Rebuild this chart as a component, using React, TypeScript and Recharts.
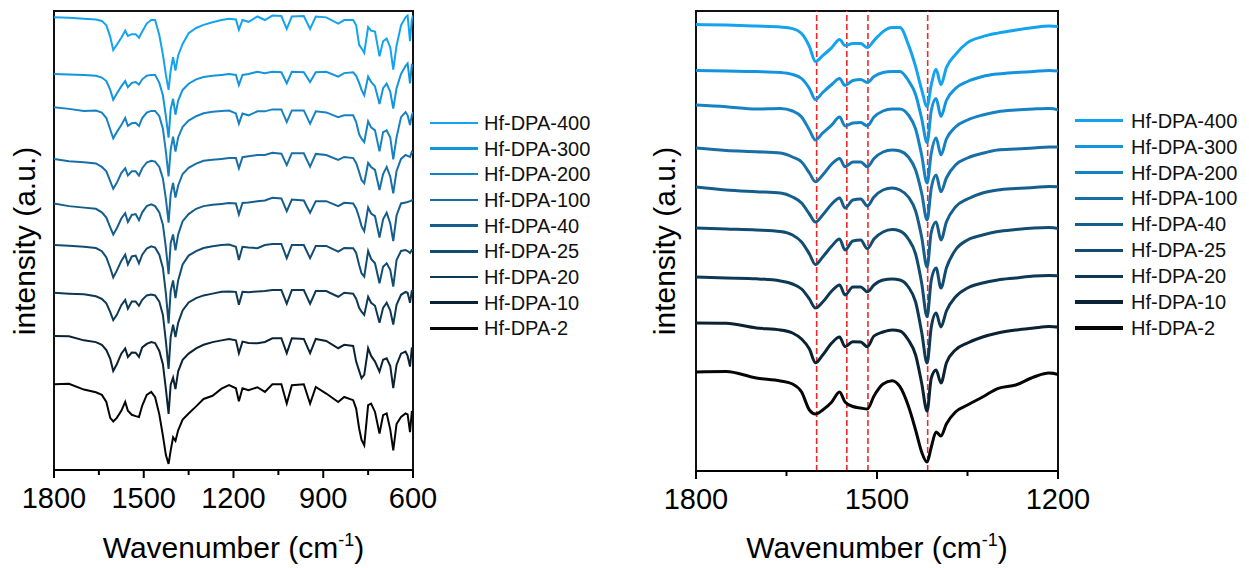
import {
  Legend,
  Line,
  LineChart,
  ReferenceArea,
  ReferenceLine,
  XAxis,
  YAxis,
} from 'recharts';

// FTIR spectra, sampled at these wavenumbers (cm-1)
const wavenumbers = [
  1800, 1750, 1700, 1660, 1640, 1625, 1612, 1602, 1590, 1575, 1562, 1553, 1540, 1527, 1516, 1505, 1490,
  1475, 1462, 1448, 1436, 1426, 1417, 1410, 1402, 1394, 1385, 1370, 1350, 1325, 1300, 1270, 1240, 1215,
  1192, 1182, 1170, 1150, 1120, 1095, 1070, 1040, 1022, 1005, 965, 944, 925, 890, 850, 830, 800, 790,
  780, 772, 763, 750, 740, 727, 712, 700, 688, 676, 666, 655, 640, 625, 618, 610, 604, 600,
];

// intensity relative to the value at 1800 cm-1 (a.u.)
const hfDpa400 = [
  0, -0.5, -1.5, -2.5, -4, -9, -22, -37, -31, -23, -15, -21, -19, -19, -23, -16, -7, -3, -3, -20, -42, -65,
  -82, -60, -45, -60, -43, -30, -18, -12, -8.5, -5.5, -3, -1.5, -2.3, -14, -3, -5, 1, -3, 2, 1.5, -13, 1,
  1.5, -13, 1, 0, -7, -3, -3, -9, -31, -35, -40, -11, -15, -16, -44, -27, -24, -34, -59, -32, -9, 0, 2,
  -27, -3, 2,
];
const hfDpa300 = [
  0, -0.5, -1, -2, -4, -8, -18, -29, -22, -14, -8, -15, -10, -9, -12, -6, -2, -1, -1, -10, -24, -48, -72,
  -40, -28, -46, -30, -18, -11, -6, -3.5, -2, -1, 0, -1, -12.5, -1, 0, 2.5, 1, 2.5, 2, -10.5, 2.5, 2, -9,
  2, 2.5, -3, 1, 2, -2, -10, -18, -24, -3, -9, -14, -34, -16, -11, -20, -39, -16, 0, 9, 12, -10.5, 10, 9,
];
const hfDpa200 = [
  0, -1.7, -4, -3.5, -6, -12, -25, -35, -28, -20, -12, -21, -18, -17.5, -21, -12, -6, -4, -4, -10, -24,
  -50, -78, -48, -33, -50, -34, -22, -15, -10, -6.7, -5, -4, -3.5, -6.8, -18.4, -7, -9, -4.5, -4.5, -2.3,
  -2.3, -16.6, -3.4, -3.4, -18.4, -4.5, -5.7, -11, -9, -9, -16.6, -30.5, -35.4, -39.2, -15.8, -22.6, -26,
  -49.7, -28, -26, -34, -58.8, -34, -11, -5.3, -9, -20, -9, -5.6,
];
const hfDpa100 = [
  0, -2.5, -3.7, -5, -9, -14, -25, -33.7, -27, -16, -10.5, -18.7, -14, -14, -18.7, -10.5, -4, -2, -3, -9,
  -22, -45, -72, -40, -27, -43.7, -30, -17, -10, -5.3, -2, -1, 0, 1, 1, -10.5, 2, 3, 4.5, 4.5, 7, 6, -7,
  6.5, 6.5, -8.7, 5.7, 4.5, -1, 2.3, 1, -4.5, -14.7, -23.7, -27.5, -4.5, -9, -12.4, -35, -17, -9, -20,
  -38.8, -13.6, 0, 4.5, 3.4, 2.3, 8, 6.8,
];
const hfDpa40 = [
  0, -3, -4.7, -6, -10, -16, -27, -35, -28, -17, -11, -21, -13, -12, -19, -10, -3, -1, -3, -10, -24, -50,
  -80, -45, -35, -53, -35, -20, -12, -6, -3, -1.5, -0.5, 0.5, 0, -12.4, 0.5, 1, 2.6, 3.4, 6.4, 5.7, -8.7,
  4.5, 3.4, -10.5, 2.6, 2.6, -3, 0.8, 0, -5.7, -15.8, -25.6, -31.3, -4.5, -11.3, -14.4, -38.4, -18, -10.5,
  -22.6, -42.6, -13.6, 0, 1.1, 1.7, 2.6, 3.4, 4.5,
];
const hfDpa25 = [
  0, -1, -2, -3.5, -7, -14, -26, -36.6, -29, -18, -11, -22, -13, -12, -20.7, -11, -4, -1.6, -3, -11, -26,
  -55, -88.7, -52, -40, -60, -40, -22, -12, -7, -3.5, -1.5, 0, 0.5, -2, -17, -2, -2.8, -3.7, 0, 1.1, 1.1,
  -15, 0, 0, -15, -1.1, -1.1, -7.6, -3.4, -3.7, -9, -22.6, -32, -35.8, -6.8, -15.8, -20.7, -43.3, -24.5,
  -20.7, -28, -47, -17, -6.8, -5.7, -6.8, -9, -5.7, -5.7,
];
const hfDpa20 = [
  0, -1, -1.8, -4, -7, -12, -22, -31, -25, -14, -8, -18, -10, -10, -14.7, -8, -3, -2, -3, -10, -25, -55,
  -86, -50, -36, -50, -34, -20, -11, -6, -3, -1, 1, 1.5, 1, -13.6, 1, 0.5, 1.5, 2, 3, 3, -12.4, 3, 3,
  -12.4, 2, 2, -4.5, 0, -1, -6.8, -17, -21.5, -25, -4.5, -11.3, -14.7, -34, -17, -11.3, -20, -36, -13.6,
  -2.3, 1, 0, -11.3, 2, 3,
];
const hfDpa10 = [
  0, -0.3, -5, -7, -10, -16, -26, -39.7, -32, -20, -14, -23.7, -18.7, -19, -23.7, -13, -9, -7, -8, -17,
  -32, -60, -88, -55, -47, -60, -40, -27, -20, -14, -10, -7, -5, -3.5, -5, -19.5, -6.4, -8, -8.2, -6.8,
  -2.6, -2.6, -19.5, -2.6, -3.4, -19.5, -3.4, -5.6, -13.9, -10, -11.3, -29, -39.5, -47.8, -44, -13.9,
  -22.6, -29, -40.3, -27, -25.2, -34, -59, -32.8, -20, -17.7, -22.6, -34.7, -13.9, -13.6,
];
const hfDpa2 = [
  0, 0.5, -6, -9, -12, -20, -38, -42, -38, -30, -20, -30, -34.5, -36, -37, -24, -12, -8.7, -14.7, -34, -58,
  -80, -90, -75, -60, -64, -52, -40, -33, -25, -16.6, -13, -5, -1, -4.5, -19.2, -4.5, -6.8, -3.4, -8.7, 0,
  0, -21.8, -1.1, 0, -21.8, -3, -10.5, -20, -14.4, -18, -27.5, -50, -63, -69, -23.7, -21.8, -31.3, -55.7,
  -35, -33, -51, -74.6, -45, -37, -33, -34, -54, -31.3, -31.6,
];

const seriesNames = [
  'Hf-DPA-400',
  'Hf-DPA-300',
  'Hf-DPA-200',
  'Hf-DPA-100',
  'Hf-DPA-40',
  'Hf-DPA-25',
  'Hf-DPA-20',
  'Hf-DPA-10',
  'Hf-DPA-2',
];
const seriesValues = [hfDpa400, hfDpa300, hfDpa200, hfDpa100, hfDpa40, hfDpa25, hfDpa20, hfDpa10, hfDpa2];
const seriesColors = [
  '#14a3ef',
  '#1494dd',
  '#1682c3',
  '#176fa6',
  '#155e8c',
  '#124c71',
  '#0e3954',
  '#0a2233',
  '#050505',
];

// vertical stacking offset of each spectrum, per panel
const leftOffsets = [511.5, 447.5, 409.8, 351.5, 301.2, 254.3, 200.3, 151.5, 96.9];
const rightOffsets = [446.4, 400.5, 366, 323, 284, 243, 194, 148, 99];

const leftTicks = [1800, 1650, 1500, 1350, 1200, 1050, 900, 750, 600];
const rightTicks = [1800, 1650, 1500, 1350, 1200];
const peakPositions = [1600, 1550, 1515, 1416];

const FONT = '"Liberation Sans", Arial, Helvetica, sans-serif';
const HEIGHT = 568;

const buildRows = (offsets: number[]) =>
  wavenumbers.map((w, i) => {
    const row: Record<string, number> = { w };
    seriesValues.forEach((values, k) => {
      row[`s${k}`] = offsets[k] + values[i];
    });
    return row;
  });

const WaveTick = ({ x, y, payload }: any) => {
  const major = payload.value % 300 === 0;
  return (
    <g>
      <line x1={x} x2={x} y1={y} y2={y + (major ? 8 : 5)} stroke="#000" strokeWidth={2} />
      {major && (
        <text x={x} y={y + 38} textAnchor="middle" fontSize={29} fill="#000" fontFamily={FONT}>
          {payload.value}
        </text>
      )}
    </g>
  );
};

// axis titles, drawn from the x-axis label slot
const AxisTitles = ({ cx }: { cx: number }) => (
  <g>
    <text x={cx} y={558} textAnchor="middle" fontSize={30} fill="#000" fontFamily={FONT}>
      <tspan>Wavenumber (cm</tspan>
      <tspan dy={-12} fontSize={18}>-1</tspan>
      <tspan dy={12}>)</tspan>
    </text>
    <text
      x={35}
      y={241}
      transform="rotate(-90 35 241)"
      textAnchor="middle"
      fontSize={30}
      fill="#000"
      fontFamily={FONT}
    >
      intensity (a.u.)
    </text>
  </g>
);

const SpectraLegend = ({ payload, lineWidth, rowHeight, gap }: any) => {
  const items = [...(payload ?? [])].sort(
    (a: any, b: any) => seriesNames.indexOf(a.value) - seriesNames.indexOf(b.value),
  );
  return (
    <div style={{ fontFamily: FONT }}>
      {items.map((item: any) => (
        <div key={item.value} style={{ display: 'flex', alignItems: 'center', height: rowHeight }}>
          <span
            style={{
              display: 'inline-block',
              width: 48,
              height: lineWidth,
              background: item.color,
              marginRight: gap,
            }}
          />
          <span style={{ fontSize: 20, lineHeight: '20px', color: '#111', whiteSpace: 'nowrap' }}>
            {item.value}
          </span>
        </div>
      ))}
    </div>
  );
};

type PanelProps = {
  left: number;
  width: number;
  plotLeft: number;
  plotRight: number;
  plotBottom: number;
  xDomain: [number, number];
  ticks: number[];
  yMax: number;
  offsets: number[];
  lineWidth: number;
  curve: 'linear' | 'monotone';
  legendLeft: number;
  legendTop: number;
  legendRow: number;
  legendGap: number;
  peaks?: number[];
};

const SpectraPanel = (p: PanelProps) => {
  const rows = buildRows(p.offsets);
  return (
    <div style={{ position: 'absolute', left: p.left, top: 0 }}>
      <LineChart
        width={p.width}
        height={HEIGHT}
        data={rows}
        margin={{ top: 11, left: p.plotLeft, right: p.width - p.plotRight, bottom: HEIGHT - p.plotBottom - 30 }}
      >
        <XAxis
          dataKey="w"
          type="number"
          domain={p.xDomain}
          reversed
          allowDataOverflow
          ticks={p.ticks}
          interval={0}
          height={30}
          tickSize={0}
          tickMargin={0}
          tickLine={false}
          axisLine={{ stroke: '#000', strokeWidth: 2 }}
          tick={(t: any) => <WaveTick {...t} />}
          label={{ content: () => <AxisTitles cx={(p.plotLeft + p.plotRight) / 2} /> }}
        />
        <YAxis
          type="number"
          domain={[0, p.yMax]}
          allowDataOverflow
          width={0}
          tick={false}
          tickLine={false}
          axisLine={false}
        />
        {(p.peaks ?? []).map((w) => (
          <ReferenceLine key={w} x={w} stroke="#f02828" strokeWidth={1.6} strokeDasharray="6 3" />
        ))}
        {seriesNames.map((name, k) => (
          <Line
            key={name}
            dataKey={`s${k}`}
            name={name}
            type={p.curve}
            stroke={seriesColors[k]}
            strokeWidth={p.lineWidth}
            dot={false}
            activeDot={false}
            isAnimationActive={false}
          />
        ))}
        <ReferenceArea
          x1={p.xDomain[1]}
          x2={p.xDomain[0]}
          y1={0}
          y2={p.yMax}
          fill="none"
          stroke="#111"
          strokeWidth={2}
        />
        <Legend
          layout="vertical"
          align="center"
          verticalAlign="middle"
          wrapperStyle={{ left: p.legendLeft, top: p.legendTop, width: 190 }}
          content={(lp: any) => (
            <SpectraLegend
              payload={lp.payload}
              lineWidth={p.lineWidth + 0.5}
              rowHeight={p.legendRow}
              gap={p.legendGap}
            />
          )}
        />
      </LineChart>
    </div>
  );
};

export default function App() {
  return (
    <div
      style={{
        position: 'absolute',
        left: 0,
        top: 0,
        width: 1249,
        height: HEIGHT,
        background: '#fff',
        fontFamily: FONT,
        overflow: 'hidden',
      }}
    >
      <SpectraPanel
        left={0}
        width={640}
        plotLeft={54}
        plotRight={413}
        plotBottom={470}
        xDomain={[600, 1800]}
        ticks={leftTicks}
        yMax={518.7}
        offsets={leftOffsets}
        lineWidth={2}
        curve="linear"
        legendLeft={430}
        legendTop={110}
        legendRow={25.7}
        legendGap={6}
      />
      <SpectraPanel
        left={640}
        width={609}
        plotLeft={56}
        plotRight={418}
        plotBottom={471}
        xDomain={[1200, 1800]}
        ticks={rightTicks}
        yMax={460}
        offsets={rightOffsets}
        lineWidth={3}
        curve="monotone"
        legendLeft={435}
        legendTop={107.7}
        legendRow={25.95}
        legendGap={8}
        peaks={peakPositions}
      />
    </div>
  );
}
